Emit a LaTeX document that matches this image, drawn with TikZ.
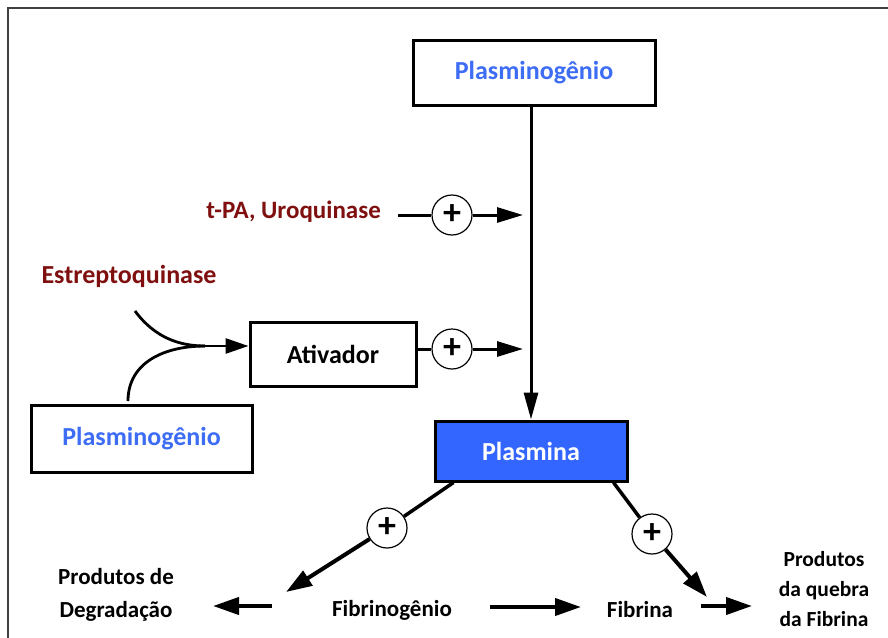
\documentclass[tikz,border=0pt]{standalone}
\usepackage{fontspec}
\setmainfont{Carlito}
\usetikzlibrary{arrows.meta,calc}
\definecolor{plblue}{RGB}{61,108,245}
\definecolor{plfill}{RGB}{51,102,255}
\definecolor{dred}{RGB}{128,16,16}
\begin{document}
\begin{tikzpicture}[x=1pt,y=-1pt,
  box/.style={draw,line width=3pt,inner sep=0pt,font=\fontsize{26}{30}\selectfont\bfseries},
  pluscirc/.style={circle,draw,line width=1.2pt,minimum size=40pt,inner sep=0pt,fill=white,font=\fontsize{36}{36}\selectfont\bfseries},
  lbl/.style={font=\fontsize{23}{33}\selectfont\bfseries,align=center,inner sep=0pt},
  conn/.style={line width=3pt},
  arr/.style={line width=3pt,-{Triangle[length=26pt,width=15pt]}},
  barr/.style={line width=4pt,-{Triangle[length=26pt,width=17pt]}}]
\useasboundingbox (0,0) rectangle (888,637);
\fill[white] (0,0) rectangle (888,637);
% frame
\draw[line width=2pt,black!75] (8,640) -- (8,8) -- (890,8);

% boxes
\node[box,minimum width=242pt,minimum height=65pt,text=plblue] (plg) at (534,72.5) {Plasminogênio};
\node[box,minimum width=166pt,minimum height=64pt] (ativ) at (333,354) {Ativador};
\node[box,minimum width=221pt,minimum height=67pt,text=plblue] (plg2) at (141.5,438.5) {Plasminogênio};
\node[box,minimum width=192pt,minimum height=60pt,fill=plfill,text=white] (plasmina) at (531,451) {Plasmina};

% main vertical arrow
\draw[arr,-{Triangle[length=27pt,width=14pt]}] (plasmina.north |- plg.south) -- (plasmina.north);

% t-PA row
\node[lbl,anchor=east,text=dred,font=\fontsize{25}{28}\selectfont\bfseries] (tpa) at (381,212) {t-PA, Uroquinase};
\coordinate (s1) at (398,215);
\node[pluscirc] (c1) at (452,215) {+};
\coordinate (t1) at (523,215);
\draw[conn] (s1) -- (c1);
\draw[arr] (c1) -- (t1);

% Ativador row
\node[pluscirc] (c2) at (452,349) {+};
\coordinate (t2) at (523,349);
\draw[conn] (ativ.east |- c2) -- (c2);
\draw[arr] (c2) -- (t2);

% Estreptoquinase
\node[lbl,text=dred,font=\fontsize{26}{30}\selectfont\bfseries] (strep) at (129,276) {Estreptoquinase};
\coordinate (e1) at (135,311);
\coordinate (e2) at (128,401);
\coordinate (m) at (205,346);
\draw[line width=2.8pt] (e1) .. controls (155,338) and (180,346) .. (m);
\draw[line width=2.8pt] (e2) .. controls (128,362) and (165,346) .. (m);
\draw[line width=2.8pt,-{Triangle[length=23pt,width=15pt]}] (m) -- (ativ.west |- m);

% lower labels
\node[lbl] (degr) at (116,595) {Produtos de\\Degradação};
\node[lbl] (fbg) at (392,610) {Fibrinogênio};
\node[lbl] (fbr) at (640,610) {Fibrina};
\node[lbl,font=\fontsize{21.5}{30}\selectfont\bfseries] (pqf) at (824,589) {Produtos\\da quebra\\da Fibrina};

% diagonal arrows from Plasmina
\coordinate (d1) at ($(plasmina.south west)+(20,0)$);
\node[pluscirc] (c3) at (387,528) {+};
\coordinate (d1t) at (286,592);
\draw[conn,line width=3.5pt] (d1) -- (c3);
\draw[barr] (c3) -- (d1t);

\coordinate (d2) at ($(plasmina.south east)+(-15,0)$);
\node[pluscirc] (c4) at (652,534) {+};
\coordinate (d2t) at (707,597);
\draw[conn,line width=3.5pt] (d2) -- (c4);
\draw[barr] (c4) -- (d2t);

% bottom horizontal arrows
\coordinate (h1s) at (272,606);
\coordinate (h1t) at (213,606);
\draw[barr] (h1s) -- (h1t);
\coordinate (h2s) at (490,607);
\coordinate (h2t) at (581,607);
\draw[barr] (h2s) -- (h2t);
\coordinate (h3s) at (701,606);
\coordinate (h3t) at (752,606);
\draw[barr] (h3s) -- (h3t);
\end{tikzpicture}
\end{document}
